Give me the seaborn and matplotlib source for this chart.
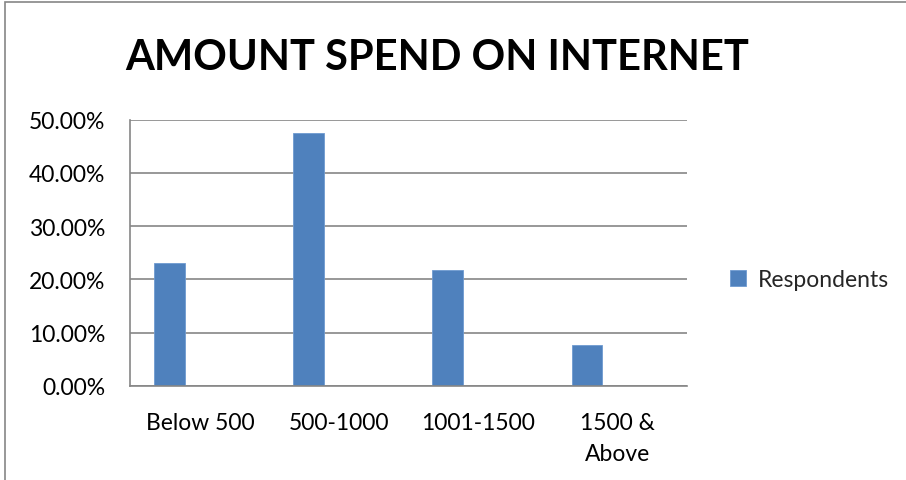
import matplotlib
matplotlib.use("Agg")
import matplotlib.pyplot as plt
import seaborn as sns
import pandas as pd
from matplotlib.patches import Rectangle
from matplotlib.ticker import FuncFormatter

categories = ["Below 500", "500-1000", "1001-1500", "1500 &\nAbove"]
respondents = [0.231, 0.475, 0.218, 0.076]
series_name = "Respondents"
title = "AMOUNT SPEND ON INTERNET"

sns.set_theme(style="white")
plt.rcParams["font.family"] = ["Lato", "DejaVu Sans"]

df = pd.DataFrame({"Range": categories, "Share": respondents})

W, H = 906, 481
fig = plt.figure(figsize=(W / 100, H / 100), dpi=100)
ax = fig.add_axes([130.3 / W, 1 - 386.7 / H, (687.3 - 130.3) / W, (386.7 - 120.7) / H])

bar_color = "#4F81BD"
sns.barplot(data=df, x="Range", y="Share", color=bar_color, width=0.22,
            saturation=1, ax=ax, label=series_name)
shift = -0.22
for p in ax.patches:
    p.set_x(p.get_x() + shift)
    p.set_edgecolor("#6F9BD1")
    p.set_linewidth(0.6)

ax.set_xlim(-0.5, len(categories) - 0.5)
ax.set_ylim(0, 0.5)
ax.set_yticks([0, 0.1, 0.2, 0.3, 0.4, 0.5])
ax.yaxis.set_major_formatter(FuncFormatter(lambda v, _: f"{v*100:.2f}%"))
ax.set_xlabel("")
ax.set_ylabel("")
ax.grid(axis="y", color="#868686", linewidth=1.2)
ax.set_axisbelow(True)
for s in ["top", "right"]:
    ax.spines[s].set_visible(False)
for s in ["left", "bottom"]:
    ax.spines[s].set_color("#868686")
    ax.spines[s].set_linewidth(1.2)
fs = 16.5
ax.tick_params(axis="y", length=0, pad=18, labelsize=fs, labelcolor="black")
ax.tick_params(axis="x", length=0, pad=19, labelsize=fs, labelcolor="black")
for t in ax.get_xticklabels():
    t.set_linespacing(1.6)

fig.text(437 / W, 1 - 58 / H, title, ha="center", va="center",
         fontsize=30, fontweight="bold", color="black")

leg = ax.legend(loc="center left", bbox_to_anchor=(1.04, 0.4), frameon=False,
                fontsize=fs, handlelength=0.7, handleheight=0.7, handletextpad=0.5)

fig.add_artist(Rectangle((5 / W, -0.1), 1.2, 1 - 3 / H + 0.1, transform=fig.transFigure,
                         fill=False, edgecolor="#868686", linewidth=1.2))

fig.savefig("out.png", dpi=100)
